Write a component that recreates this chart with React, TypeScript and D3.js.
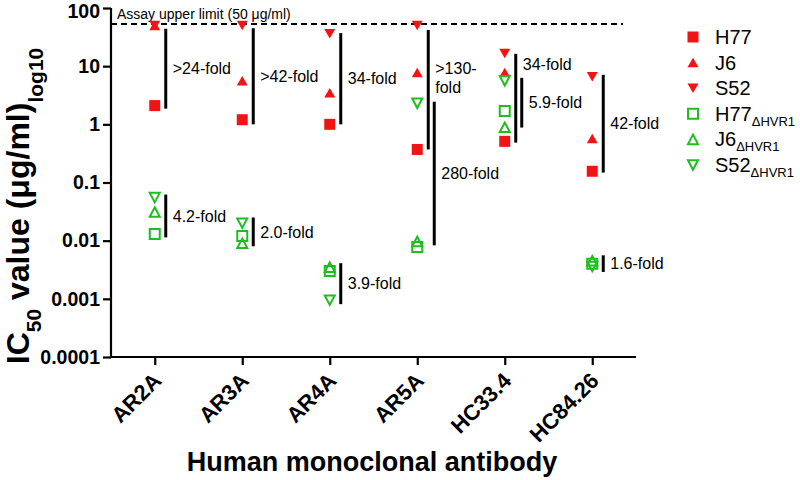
import React, { useEffect, useRef } from "react";
import * as d3 from "d3";

const categories = ["AR2A", "AR3A", "AR4A", "AR5A", "HC33.4", "HC84.26"];
const yTickValues = [0.0001, 0.001, 0.01, 0.1, 1, 10, 100];
const yTickLabels = ["0.0001", "0.001", "0.01", "0.1", "1", "10", "100"];

// IC50 values (µg/ml) per antibody
const h77 = [2.1, 1.2, 1.0, 0.37, 0.51, 0.156];
const j6 = [50, 5.6, 3.5, 7.8, 7.8, 0.57];
const s52 = [50, 50, 36, 50, 16.5, 6.6];
const h77d = [0.013, 0.012, 0.003, 0.0078, 1.7, 0.004];
const j6d = [0.031, 0.009, 0.0035, 0.0097, 0.89, 0.0045];
const s52d = [0.055, 0.02, 0.00095, 2.3, 5.6, 0.0036];

const assayLimit = 50;

// fold-change annotations
const foldCategory = ["AR2A", "AR2A", "AR3A", "AR3A", "AR4A", "AR4A", "AR5A", "AR5A", "HC33.4", "HC33.4", "HC84.26", "HC84.26"];
const foldHigh = [44, 0.062, 45, 0.025, 37, 0.0041, 42, 2.45, 16.3, 6.3, 7.1, 0.0056];
const foldLow = [1.86, 0.0114, 1.0, 0.008, 1.0, 0.00081, 0.37, 0.0083, 0.485, 0.88, 0.148, 0.0029];
const foldLabel = [[">24-fold"], ["4.2-fold"], [">42-fold"], ["2.0-fold"], ["34-fold"], ["3.9-fold"], [">130-", "fold"], ["280-fold"], ["34-fold"], ["5.9-fold"], ["42-fold"], ["1.6-fold"]];
const foldLabelAt: (number | null)[] = [null, null, null, null, null, null, 6.4, null, 11, null, null, null];

const RED = "#f01414";
const GREEN = "#1fbe1f";
const FONT = "'Liberation Sans', Arial, Helvetica, sans-serif";

type Shape = "square" | "up" | "down";
const series: { name: string; sub?: string; values: number[]; shape: Shape; filled: boolean }[] = [
  { name: "H77", values: h77, shape: "square", filled: true },
  { name: "J6", values: j6, shape: "up", filled: true },
  { name: "S52", values: s52, shape: "down", filled: true },
  { name: "H77", sub: "ΔHVR1", values: h77d, shape: "square", filled: false },
  { name: "J6", sub: "ΔHVR1", values: j6d, shape: "up", filled: false },
  { name: "S52", sub: "ΔHVR1", values: s52d, shape: "down", filled: false },
];

function markerPath(shape: Shape, cx: number, cy: number, filled: boolean) {
  const p = d3.path();
  if (shape === "square") {
    const s = filled ? 11 : 10;
    p.rect(cx - s / 2, cy - s / 2, s, s);
  } else {
    const w = filled ? 11 : 10;
    const h = 9.5;
    const dir = shape === "up" ? 1 : -1;
    p.moveTo(cx, cy - (dir * h) / 2);
    p.lineTo(cx + w / 2, cy + (dir * h) / 2);
    p.lineTo(cx - w / 2, cy + (dir * h) / 2);
    p.closePath();
  }
  return p.toString();
}

const W = 800;
const H = 480;
const left = 111;
const right = 636;
const top = 8;
const bottom = 357;

export default function App() {
  const yAxisRef = useRef<SVGGElement>(null);
  const xAxisRef = useRef<SVGGElement>(null);

  const y = d3.scaleLog().domain([0.0001, 100]).range([bottom, top]);
  const x = d3.scalePoint<string>().domain(categories).range([left, right]).padding(0.5);

  useEffect(() => {
    document.body.style.margin = "0";
    const ya = d3
      .axisLeft(y)
      .tickValues(yTickValues)
      .tickFormat((_, i) => yTickLabels[i])
      .tickSize(8)
      .tickPadding(3);
    const yg = d3.select(yAxisRef.current!);
    yg.call(ya as any);
    yg.select(".domain").attr("stroke", "#000").attr("stroke-width", 2.2).attr("d", `M0,${top}V${bottom}`);
    yg.selectAll(".tick line").attr("stroke", "#000").attr("stroke-width", 2.2);
    yg.selectAll(".tick text")
      .attr("font-family", FONT)
      .attr("font-size", 19.5)
      .attr("font-weight", "bold")
      .attr("fill", "#000");
    // keep the topmost label inside the picture
    yg.selectAll<SVGTextElement, number>(".tick text")
      .filter((d) => d === yTickValues[yTickValues.length - 1])
      .attr("dy", "0.5em");

    const xa = d3.axisBottom(x).tickSize(8).tickFormat(() => "");
    const xg = d3.select(xAxisRef.current!);
    xg.call(xa as any);
    xg.select(".domain").attr("stroke", "#000").attr("stroke-width", 2.2).attr("d", `M${left},0H${right}`);
    xg.selectAll(".tick line").attr("stroke", "#000").attr("stroke-width", 2.2);
  }, []);

  // fold bar x positions (shift when overlapping another bar in the same category)
  const barX: number[] = [];
  foldCategory.forEach((c, i) => {
    let slot = 0;
    for (let j = 0; j < i; j++) {
      if (foldCategory[j] === c && !(foldLow[i] > foldHigh[j] || foldHigh[i] < foldLow[j])) slot++;
    }
    barX.push((x(c) as number) + 11 + slot * 6);
  });

  return (
    <svg width={W} height={H} style={{ display: "block", background: "#fff" }} fontFamily={FONT}>
      <rect width={W} height={H} fill="#fff" />
      <g ref={yAxisRef} transform={`translate(${left},0)`} />
      <g ref={xAxisRef} transform={`translate(0,${bottom})`} />

      {/* x tick labels */}
      {categories.map((c) => (
        <text
          key={c}
          transform={`translate(${(x(c) as number) + 8},${bottom + 25}) rotate(-45)`}
          textAnchor="end"
          fontSize={22}
          fontWeight="bold"
          fill="#000"
        >
          {c}
        </text>
      ))}

      {/* assay upper limit */}
      <line x1={left} x2={623} y1={y(assayLimit) - 1.5} y2={y(assayLimit) - 1.5} stroke="#000" strokeWidth={1.8} strokeDasharray="6,4" />
      <text x={117} y={y(assayLimit) - 7} fontSize={14} fill="#000">
        Assay upper limit (50 μg/ml)
      </text>

      {/* fold bars */}
      {foldCategory.map((c, i) => {
        const bx = barX[i];
        const mid = foldLabelAt[i] ?? Math.sqrt(foldLow[i] * foldHigh[i]);
        const lines = foldLabel[i];
        const cy = y(mid);
        return (
          <g key={i}>
            <line x1={bx} x2={bx} y1={y(foldHigh[i])} y2={y(foldLow[i])} stroke="#000" strokeWidth={3} />
            {lines.map((t, k) => (
              <text key={k} x={bx + 7} y={cy + (k - (lines.length - 1) / 2) * 19} dy="0.36em" fontSize={16} fill="#000">
                {t}
              </text>
            ))}
          </g>
        );
      })}

      {/* data markers */}
      {series.map((s, si) => (
        <g key={si}>
          {s.values.map((v, i) => (
            <path
              key={i}
              d={markerPath(s.shape, x(categories[i]) as number, y(v), s.filled)}
              fill={s.filled ? RED : "none"}
              stroke={s.filled ? "none" : GREEN}
              strokeWidth={2}
            />
          ))}
        </g>
      ))}

      {/* legend */}
      {series.map((s, i) => {
        const ly = 37 + i * 25.6;
        return (
          <g key={i}>
            <path d={markerPath(s.shape, 693, ly, s.filled)} fill={s.filled ? RED : "none"} stroke={s.filled ? "none" : GREEN} strokeWidth={2} />
            <text x={715} y={ly + 7} fontSize={20} fill="#000">
              {s.name}
              {s.sub && (
                <tspan fontSize={13} dy={5}>
                  {s.sub}
                </tspan>
              )}
            </text>
          </g>
        );
      })}

      {/* y title */}
      <text transform="rotate(-90)" x={-206} y={29} textAnchor="middle" fontSize={32} fontWeight="bold" fill="#000">
        IC
        <tspan fontSize={21} dy={12}>50</tspan>
        <tspan dy={-12}> value (μg/ml)</tspan>
        <tspan fontSize={21} dy={14}>log10</tspan>
      </text>

      {/* x title */}
      <text x={372} y={471} textAnchor="middle" fontSize={27} fontWeight="bold" fill="#000">
        Human monoclonal antibody
      </text>
    </svg>
  );
}
